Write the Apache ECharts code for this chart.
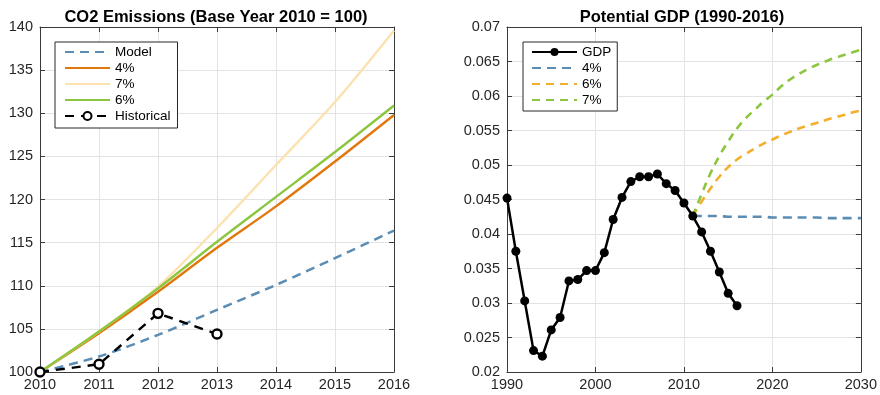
<!DOCTYPE html>
<html>
<head>
<meta charset="utf-8">
<script src="https://cdn.jsdelivr.net/npm/echarts@6/dist/echarts.min.js"></script>
<style>
  html, body { margin: 0; padding: 0; background: #fff; }
  #chart { width: 880px; height: 395px; }
</style>
</head>
<body>
<div id="chart"></div>
<script>
// ---- CO2 emissions (index, base year 2010 = 100) ----
const co2Years = [2010, 2011, 2012, 2013, 2014, 2015, 2016];
const co2Model = [100, 101.8, 104.3, 107.2, 110.1, 113.2, 116.4];
const co2Rate4 = [100, 104.5, 109.3, 114.4, 119.2, 124.4, 129.8];
const co2Rate7 = [100, 104.7, 109.9, 116.7, 124.0, 131.3, 139.6];
const co2Rate6 = [100, 104.7, 109.7, 115.1, 120.3, 125.5, 130.9];
const histYears = [2010, 2011, 2012, 2013];
const histValues = [100, 100.9, 106.8, 104.4];

// ---- Potential GDP growth ----
const gdpYears = [1990, 1991, 1992, 1993, 1994, 1995, 1996, 1997, 1998, 1999,
  2000, 2001, 2002, 2003, 2004, 2005, 2006, 2007, 2008, 2009,
  2010, 2011, 2012, 2013, 2014, 2015, 2016];
const gdpValues = [0.0452, 0.0375, 0.0303, 0.0231, 0.0223, 0.0261, 0.0279, 0.0332, 0.0334, 0.0347,
  0.0347, 0.0373, 0.0421, 0.0453, 0.0476, 0.0483, 0.0483, 0.0487, 0.0473, 0.0463,
  0.0445, 0.0426, 0.0403, 0.0375, 0.0345, 0.0314, 0.0296];
const projYears = [2011, 2012, 2013, 2014, 2015, 2016, 2017, 2018, 2019, 2020,
  2021, 2022, 2023, 2024, 2025, 2026, 2027, 2028, 2029, 2030];
const proj4 = [0.0426, 0.0426, 0.0426, 0.0426, 0.0425, 0.0425, 0.0425, 0.0425, 0.0425, 0.0424,
  0.0424, 0.0424, 0.0424, 0.0424, 0.0424, 0.0423, 0.0423, 0.0423, 0.0423, 0.0423];
const proj6 = [0.0426, 0.0447, 0.0466, 0.0483, 0.0497, 0.0508, 0.0516, 0.0524, 0.0531, 0.0537,
  0.0543, 0.0548, 0.0553, 0.0557, 0.0561, 0.0565, 0.0569, 0.0572, 0.0576, 0.0579];
const proj7 = [0.0426, 0.0458, 0.0488, 0.0513, 0.0534, 0.0553, 0.0568, 0.0580, 0.0592, 0.0602,
  0.0614, 0.0624, 0.0632, 0.0639, 0.0645, 0.0650, 0.0655, 0.0659, 0.0663, 0.0667];

const pairs = (xs, ys) => xs.map((x, i) => [x, ys[i]]);

const FONT = '"Liberation Sans", Arial, Helvetica, sans-serif';
const AXIS_COLOR = '#262626';
const GRID_COLOR = '#e3e3e3';
const TICK_FONT = 14.5;

function valueAxis(opts) {
  const labels = opts.labels !== false;
  return {
    type: 'value',
    gridIndex: opts.grid,
    position: opts.position,
    min: opts.min, max: opts.max, interval: opts.interval,
    axisLine: { show: true, onZero: false, lineStyle: { color: '#3a3a3a', width: 1 } },
    axisTick: { show: true, inside: true, length: 5, lineStyle: { color: '#3a3a3a' } },
    axisLabel: {
      show: labels, color: AXIS_COLOR, fontFamily: FONT, fontSize: TICK_FONT,
      margin: opts.margin || 6,
      formatter: opts.formatter || (v => String(v))
    },
    splitLine: { show: labels, lineStyle: { color: GRID_COLOR, width: 1 } }
  };
}

const gdpFmt = v => String(+v.toFixed(3));

// legend entry for a line drawn without markers: hide the marker in the swatch
const plain = name => ({ name, itemStyle: { opacity: 0 } });

const legendBase = {
  orient: 'vertical',
  itemWidth: 45, itemHeight: 10, itemGap: 2,
  borderColor: '#262626', borderWidth: 1, backgroundColor: '#fff',
  textStyle: { fontFamily: FONT, fontSize: 13.5, color: '#000' }
};

const option = {
  animation: false,
  backgroundColor: '#fff',
  textStyle: { fontFamily: FONT },
  title: [
    { text: 'CO2 Emissions (Base Year 2010 = 100)', left: 211, top: 4, textAlign: 'center',
      textStyle: { fontFamily: FONT, fontSize: 16.5, fontWeight: 'bold', color: '#000' } },
    { text: 'Potential GDP (1990-2016)', left: 677, top: 4, textAlign: 'center',
      textStyle: { fontFamily: FONT, fontSize: 16.5, fontWeight: 'bold', color: '#000' } }
  ],
  grid: [
    { left: 40, top: 27, width: 354, height: 345 },
    { left: 507, top: 27, width: 355, height: 345 }
  ],
  xAxis: [
    valueAxis({ grid: 0, position: 'bottom', min: 2010, max: 2016, interval: 1, margin: 5 }),
    valueAxis({ grid: 0, position: 'top', min: 2010, max: 2016, interval: 1, labels: false }),
    valueAxis({ grid: 1, position: 'bottom', min: 1990, max: 2030, interval: 10, margin: 5 }),
    valueAxis({ grid: 1, position: 'top', min: 1990, max: 2030, interval: 10, labels: false })
  ],
  yAxis: [
    valueAxis({ grid: 0, position: 'left', min: 100, max: 140, interval: 5, margin: 7 }),
    valueAxis({ grid: 0, position: 'right', min: 100, max: 140, interval: 5, labels: false }),
    valueAxis({ grid: 1, position: 'left', min: 0.02, max: 0.07, interval: 0.005, margin: 7, formatter: gdpFmt }),
    valueAxis({ grid: 1, position: 'right', min: 0.02, max: 0.07, interval: 0.005, labels: false, formatter: gdpFmt })
  ],
  legend: [
    Object.assign({}, legendBase, {
      left: 55, top: 42, padding: [3, 7, 5, 9],
      data: [plain('Model'), plain('4%'), plain('7%'), plain('6%'), 'Historical']
    }),
    Object.assign({}, legendBase, {
      left: 523, top: 42, padding: [3, 6, 4, 8],
      data: ['GDP', plain('4% '), plain('6% '), plain('7% ')]
    })
  ],
  series: [
    { name: 'Model', type: 'line', xAxisIndex: 0, yAxisIndex: 0, smooth: 0.3,
      data: pairs(co2Years, co2Model), symbol: 'none',
      lineStyle: { color: '#5b8db4', width: 2.5, type: [9, 6] }, itemStyle: { color: '#5b8db4' } },
    { name: '4%', type: 'line', xAxisIndex: 0, yAxisIndex: 0, smooth: 0.3,
      data: pairs(co2Years, co2Rate4), symbol: 'none',
      lineStyle: { color: '#e2770d', width: 2.4 }, itemStyle: { color: '#e2770d' } },
    { name: '7%', type: 'line', xAxisIndex: 0, yAxisIndex: 0, smooth: 0.3,
      data: pairs(co2Years, co2Rate7), symbol: 'none',
      lineStyle: { color: '#fbe2b0', width: 2.4 }, itemStyle: { color: '#fbe2b0' } },
    { name: '6%', type: 'line', xAxisIndex: 0, yAxisIndex: 0, smooth: 0.3,
      data: pairs(co2Years, co2Rate6), symbol: 'none',
      lineStyle: { color: '#8cc63f', width: 2.4 }, itemStyle: { color: '#8cc63f' } },
    { name: 'Historical', type: 'line', xAxisIndex: 0, yAxisIndex: 0,
      data: pairs(histYears, histValues), symbol: 'circle', symbolSize: 9, showAllSymbol: true,
      lineStyle: { color: '#000', width: 2.4, type: [9, 7] },
      itemStyle: { color: '#fff', borderColor: '#000', borderWidth: 2.4 } },

    { name: 'GDP', type: 'line', xAxisIndex: 2, yAxisIndex: 2,
      data: pairs(gdpYears, gdpValues), symbol: 'circle', symbolSize: 9, showAllSymbol: true,
      lineStyle: { color: '#000', width: 2.5 }, itemStyle: { color: '#000' } },
    { name: '4% ', type: 'line', xAxisIndex: 2, yAxisIndex: 2, smooth: true,
      data: pairs(projYears, proj4), symbol: 'none',
      lineStyle: { color: '#5b8db4', width: 2.6, type: [9, 6] }, itemStyle: { color: '#5b8db4' } },
    { name: '6% ', type: 'line', xAxisIndex: 2, yAxisIndex: 2, smooth: true,
      data: pairs(projYears, proj6), symbol: 'none',
      lineStyle: { color: '#f3af2b', width: 2.6, type: [8, 6] }, itemStyle: { color: '#f3af2b' } },
    { name: '7% ', type: 'line', xAxisIndex: 2, yAxisIndex: 2, smooth: true,
      data: pairs(projYears, proj7), symbol: 'none',
      lineStyle: { color: '#8cc63f', width: 2.6, type: [8, 6] }, itemStyle: { color: '#8cc63f' } }
  ]
};

const chart = echarts.init(document.getElementById('chart'), null, { renderer: 'canvas' });
chart.setOption(option);
</script>
</body>
</html>
